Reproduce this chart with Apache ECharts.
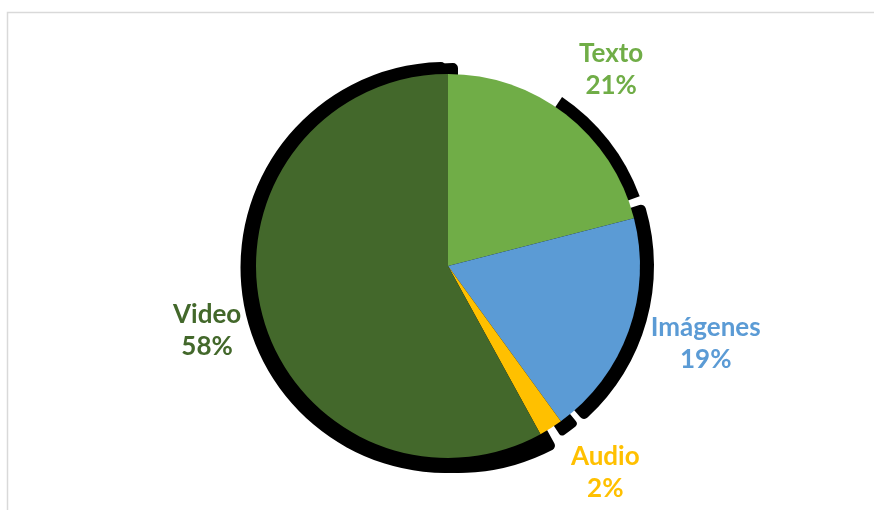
<!DOCTYPE html>
<html>
<head>
<meta charset="utf-8">
<title>Tipos de contenido</title>
<script src="https://cdn.jsdelivr.net/npm/echarts@6/dist/echarts.min.js"></script>
<style>
  html, body { margin: 0; padding: 0; background: #ffffff; }
  #chart { width: 874px; height: 510px; }
</style>
</head>
<body>
<div id="chart"></div>
<script>
// Share of content by type (percent)
const categories = ['Texto', 'Imágenes', 'Audio', 'Video'];
const values = [21, 19, 2, 58];

const colors = {
  'Texto': '#70AD47',
  'Imágenes': '#5B9BD5',
  'Audio': '#FFC000',
  'Video': '#43682B'
};

const CX = 448, CY = 266, R = 192;
const FONT = 'Lato, "Noto Sans", sans-serif';

const total = values.reduce((s, v) => s + v, 0);
// cumulative fraction at the start of each slice
const startFrac = [];
values.reduce((acc, v, i) => { startFrac[i] = acc / total; return acc + v; }, 0);

// Drop shadow behind one slice: the same data laid out so that this slice
// covers [from, to] (degrees clockwise from 12 o'clock), every other slice clear.
function shadowSeries(idx, from, to, center, radius, corner) {
  const a = startFrac[idx];
  const b = a + values[idx] / total;
  const span = (to - from) / (b - a);
  const s = from - a * span;
  return {
    type: 'pie',
    silent: true,
    z: 1,
    center: center,
    radius: radius,
    startAngle: 90 - s,
    endAngle: 90 - s - span,
    clockwise: true,
    label: { show: false },
    labelLine: { show: false },
    emphasis: { disabled: true },
    data: categories.map((name, i) => ({
      name: name,
      value: values[i],
      itemStyle: {
        color: i === idx ? '#000000' : 'rgba(0,0,0,0)',
        borderRadius: i === idx ? corner : 0
      }
    }))
  };
}

// Nudges so each two-line label sits where it reads best
const labelNudge = {
  'Texto': [5, 7],
  'Imágenes': [15, -10],
  'Audio': [19, -11],
  'Video': [9, 0]
};

const chart = echarts.init(document.getElementById('chart'), null, { renderer: 'canvas' });

chart.setOption({
  animation: false,
  backgroundColor: '#ffffff',
  graphic: [{
    type: 'rect',
    silent: true,
    shape: { x: 7.5, y: 12.5, width: 900, height: 600 },
    style: { fill: 'none', stroke: '#d9d9d9', lineWidth: 1.5 }
  }],
  series: [
    // shadows
    shadowSeries(3, 151.2, 360, [446, 267.5], 205.5, 5),
    shadowSeries(3, 151.2, 360, [458, 268], 205, 5),
    shadowSeries(0, 34, 70, [CX, CY], 204, 0),
    shadowSeries(1, 72.3, 138.8, [CX, CY], 206, 5),
    shadowSeries(2, 140.5, 146.5, [CX, CY], 205, 4),
    // the pie itself
    {
      type: 'pie',
      z: 3,
      center: [CX, CY],
      radius: R,
      startAngle: 90,
      clockwise: true,
      label: { show: false },
      labelLine: { show: false },
      emphasis: { disabled: true },
      data: categories.map((name, i) => ({
        name: name,
        value: values[i],
        itemStyle: { color: colors[name], borderWidth: 0 }
      }))
    },
    // category + percentage labels around the pie
    {
      type: 'pie',
      z: 4,
      silent: true,
      center: [CX, CY],
      radius: [245, 265],
      startAngle: 90,
      clockwise: true,
      labelLine: { show: false },
      emphasis: { disabled: true },
      label: {
        show: true,
        position: 'inside',
        formatter: '{b}\n{d}%',
        fontFamily: FONT,
        fontWeight: 'bold',
        fontSize: 26,
        lineHeight: 32,
        align: 'center'
      },
      labelLayout: function (p) {
        const n = labelNudge[categories[p.dataIndex]];
        return { dx: n[0], dy: n[1] };
      },
      data: categories.map((name, i) => ({
        name: name,
        value: values[i],
        itemStyle: { color: 'rgba(0,0,0,0)' },
        label: { color: colors[name] }
      }))
    }
  ]
});
</script>
</body>
</html>
